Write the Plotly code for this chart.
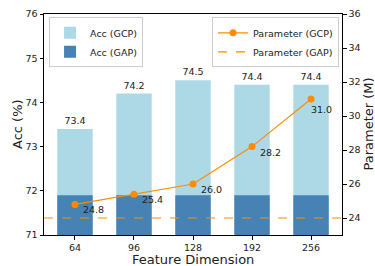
import plotly.graph_objects as go

categories = ["64", "96", "128", "192", "256"]
acc_gcp = [73.4, 74.2, 74.5, 74.4, 74.4]
acc_gap = [71.9, 71.9, 71.9, 71.9, 71.9]
param_gcp = [24.8, 25.4, 26.0, 28.2, 31.0]
param_gap = 24.0

FONT = "DejaVu Sans"
ORANGE = "#FF8C00"
TXT = "#222"

# label offsets (px) for the parameter annotations
label_dx = [6, 6, 6, 6, -2]
label_dy = [-5.5, -5.5, -5.5, -5.5, -10]

fig = go.Figure()
fig.add_trace(go.Bar(
    x=categories, y=[v - 71 for v in acc_gcp], base=71, name="Acc (GCP)",
    marker=dict(color="#ADD8E6", line=dict(width=0)), width=0.6,
    text=[f"{v:.1f}" for v in acc_gcp], textposition="outside",
    textfont=dict(size=9.5, color=TXT), cliponaxis=False, legend="legend",
))
fig.add_trace(go.Bar(
    x=categories, y=[v - 71 for v in acc_gap], base=71, name="Acc (GAP)",
    marker=dict(color="#4682B4", line=dict(width=0)), width=0.6,
    legend="legend",
))
fig.add_trace(go.Scatter(
    x=[0, 1], y=[param_gap, param_gap], yaxis="y2", xaxis="x2", name="Parameter (GAP)",
    mode="lines", line=dict(color=ORANGE, width=1.2, dash="dash"), legend="legend2",
))
fig.add_trace(go.Scatter(
    x=categories, y=param_gcp, yaxis="y2", name="Parameter (GCP)",
    mode="lines+markers", line=dict(color=ORANGE, width=1.2),
    marker=dict(color=ORANGE, size=7), legend="legend2", cliponaxis=False,
))

for i, v in enumerate(param_gcp):
    fig.add_annotation(x=i, y=v, xref="x", yref="y2", text=f"{v:.1f}", showarrow=False,
                       xanchor="left", yanchor="middle",
                       xshift=label_dx[i], yshift=label_dy[i],
                       font=dict(size=9.5, color=TXT, family=FONT))

# axis titles
TITLE_FONT = dict(size=13, color=TXT, family=FONT)
fig.add_annotation(text="Feature Dimension", xref="paper", yref="paper", x=0.5, y=0,
                   xanchor="center", yanchor="middle", yshift=-24.5, showarrow=False,
                   font=TITLE_FONT, borderpad=0)
fig.add_annotation(text="Acc (%)", xref="paper", yref="paper", x=0, y=0.5,
                   xanchor="center", yanchor="middle", xshift=-26.5, textangle=-90,
                   showarrow=False, font=TITLE_FONT)
fig.add_annotation(text="Parameter (M)", xref="paper", yref="paper", x=1, y=0.5,
                   xanchor="center", yanchor="middle", xshift=26, textangle=-90,
                   showarrow=False, font=TITLE_FONT, borderpad=0)

axcommon = dict(showline=True, linecolor="black", linewidth=1, ticks="outside",
                ticklen=3.5, tickcolor="black", showgrid=False, zeroline=False,
                automargin=False, tickfont=dict(size=9.5, color=TXT))

fig.update_layout(
    width=375, height=266,
    margin=dict(l=44, r=33, t=14, b=31),
    plot_bgcolor="white", paper_bgcolor="white",
    font=dict(family=FONT, size=9.5, color=TXT),
    barmode="overlay",
    showlegend=True,
    xaxis=dict(range=[-0.525, 4.525], type="category", mirror=True, **axcommon),
    xaxis2=dict(range=[0, 1], overlaying="x", visible=False),
    yaxis=dict(range=[71, 76], dtick=1, mirror=True, **axcommon),
    yaxis2=dict(range=[23, 36], tickvals=[24, 26, 28, 30, 32, 34, 36], overlaying="y",
                side="right", **axcommon),
    legend=dict(x=0.017, y=0.985, xanchor="left", yanchor="top", bgcolor="white",
                bordercolor="#ccc", borderwidth=1, font=dict(size=9.5),
                tracegroupgap=0, itemwidth=30),
    legend2=dict(x=0.99, y=0.985, xanchor="right", yanchor="top", bgcolor="white",
                 bordercolor="#ccc", borderwidth=1, font=dict(size=9.5),
                 tracegroupgap=0, itemwidth=30, traceorder="reversed"),
)

fig.write_html("out.html", config={"displayModeBar": False},
               post_script="document.body.style.margin='0';")
